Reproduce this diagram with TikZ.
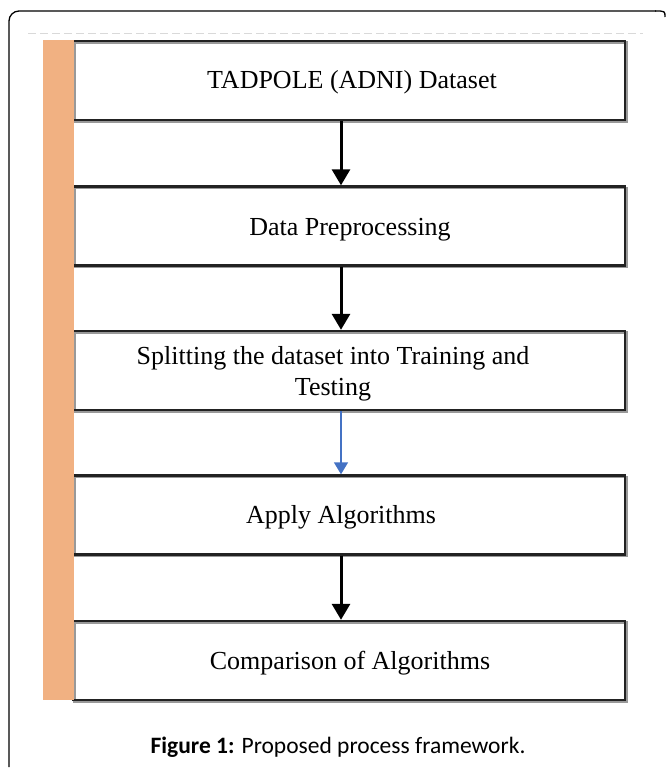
\documentclass[tikz,border=0pt]{standalone}
\usepackage{fontspec}
\setmainfont{Liberation Serif}
\newfontfamily\capfont{Carlito}
\usetikzlibrary{arrows.meta,calc}
\definecolor{barorange}{RGB}{241,177,130}
\definecolor{arrowblue}{RGB}{68,114,196}
\definecolor{boxline}{RGB}{34,34,34}
\tikzset{
  procbox/.style={draw=boxline, line width=2.4pt, minimum width=552pt, minimum height=79pt, inner sep=0pt,
    preaction={draw=black!40, line width=2.4pt, transform canvas={xshift=1.6pt,yshift=-1.6pt}}},
  boxtext/.style={anchor=base, inner sep=0pt, font=\fontsize{26}{31}\selectfont},
  blackarrow/.style={line width=3pt, draw=black, -{Triangle[width=18pt,length=16pt]}},
  bluearrow/.style={line width=1.5pt, draw=arrowblue, -{Triangle[width=14pt,length=12pt]}},
}
\begin{document}
\begin{tikzpicture}[x=1pt,y=-1pt]
\useasboundingbox (0,0) rectangle (668,769);
% outer frame
\draw[line width=1.3pt, rounded corners=10pt] (9,767) -- (9,11) -- (656,11);
\draw[line width=1.3pt] (655,11) .. controls (665,11) .. (665,17);
% dashed line
\draw[draw=black!15, line width=1pt, dash pattern=on 8pt off 4pt] (28,33) -- (643,33);
% boxes
\node[procbox] (b1) at (349,80.5) {};
\node[procbox] (b2) at (349,226) {};
\node[procbox] (b3) at (349,370.5) {};
\node[procbox] (b4) at (349,515) {};
\node[procbox] (b5) at (349,660.5) {};
% orange bar
\fill[barorange] (43,40) rectangle (74,700);
% texts
\node[boxtext] (t1) at (352,88) {TADPOLE (ADNI) Dataset};
\node[boxtext] (t2) at (350,235) {Data Preprocessing};
\node[boxtext] (t3a) at (333,364) {Splitting the dataset into Training and};
\node[boxtext] (t3b) at (333,395) {Testing};
\node[boxtext] (t4) at (341,523) {Apply Algorithms};
\node[boxtext] (t5) at (350,669) {Comparison of Algorithms};
% arrows
\coordinate (ax) at (341,0);
\draw[blackarrow] (b1.south -| ax) -- (b2.north -| ax);
\draw[blackarrow] (b2.south -| ax) -- (b3.north -| ax);
\draw[bluearrow] (b3.south -| ax) -- (b4.north -| ax);
\draw[blackarrow] (b4.south -| ax) -- (b5.north -| ax);
% caption
\node[anchor=base, inner sep=0pt, font=\capfont\fontsize{23.5}{28}\selectfont] (cap) at (338,753) {\textbf{Figure 1:} Proposed process framework.};
\end{tikzpicture}
\end{document}
